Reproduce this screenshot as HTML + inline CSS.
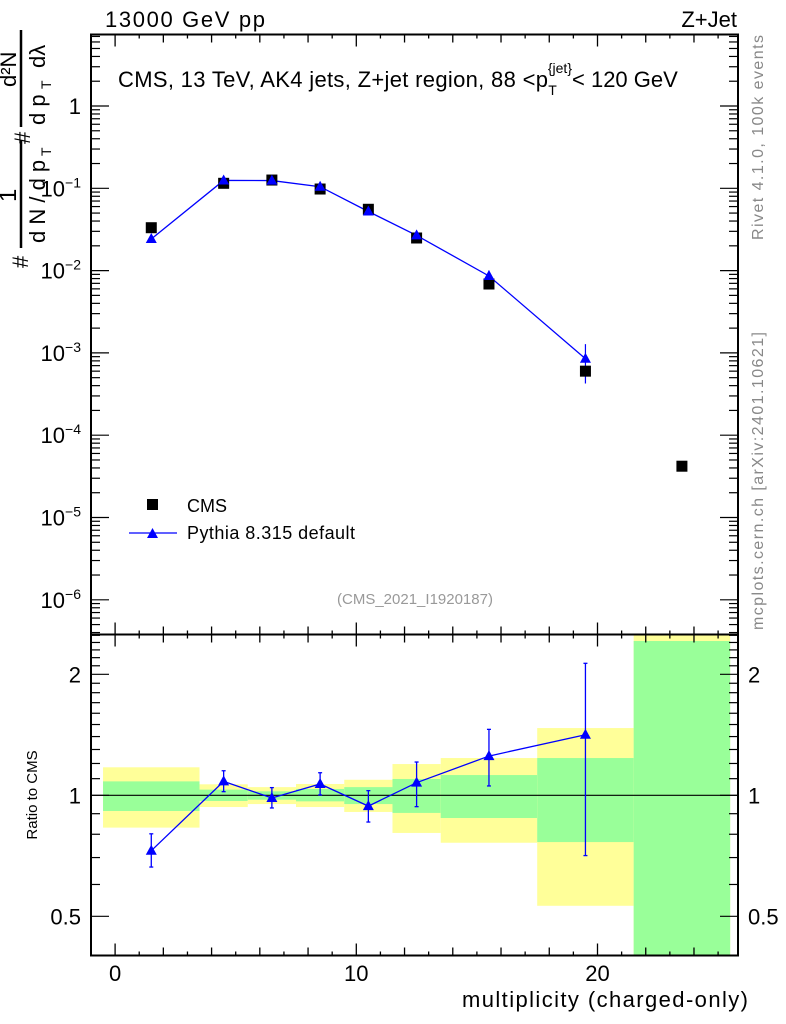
<!DOCTYPE html>
<html><head><meta charset="utf-8"><style>
body{margin:0;background:#fff}
svg{display:block;font-family:"Liberation Sans",sans-serif}
</style></head><body>
<svg id="c" width="786" height="1024" viewBox="0 0 786 1024">
<g>
<text x="105" y="27" font-size="22" textLength="160">13000 GeV pp</text>
<text x="737" y="27" font-size="22" text-anchor="end">Z+Jet</text>
<text x="118" y="87" font-size="22"><tspan textLength="430">CMS, 13 TeV, AK4 jets, Z+jet region, 88 &lt;p</tspan><tspan font-size="14" dy="8">T</tspan><tspan font-size="14" dy="-22" dx="-9">{jet}</tspan><tspan dy="14" dx="0">&lt; 120 GeV</tspan></text>
<text x="415" y="604" font-size="15" fill="#999" text-anchor="middle">(CMS_2021_I1920187)</text>
<text transform="translate(763,240) rotate(-90)" font-size="16" fill="#888" textLength="205">Rivet 4.1.0,  100k events</text>
<text transform="translate(763,630) rotate(-90)" font-size="16" fill="#888" textLength="298">mcplots.cern.ch [arXiv:2401.10621]</text>
<text x="748" y="1007" font-size="22" text-anchor="end" textLength="286">multiplicity (charged-only)</text>
<text transform="translate(37,795) rotate(-90)" font-size="15" text-anchor="middle">Ratio to CMS</text>
<g transform="translate(0,270) rotate(-90)" font-size="22">
<text x="2" y="28">#</text>
<line x1="22" y1="21" x2="130" y2="21" stroke="#000" stroke-width="2.5"/>
<text x="68" y="16" font-size="24">1</text>
<text x="27" y="45">d N / d p</text><text x="114" y="51" font-size="14">T</text>
<text x="126" y="30">#</text>
<line x1="143" y1="21" x2="240" y2="21" stroke="#000" stroke-width="2.5"/>
<text x="183" y="16">d²N</text>
<text x="145" y="45">d p</text><text x="181" y="51" font-size="14">T</text><text x="202" y="45">dλ</text>
</g>
<rect x="147" y="499" width="11" height="11" fill="#000"/>
<text x="187" y="512" font-size="18">CMS</text>
<line x1="129" y1="533" x2="177" y2="533" stroke="#00f" stroke-width="1.3"/>
<polygon points="147,538 158,538 152.5,528" fill="#00f"/>
<text x="187" y="539" font-size="18" textLength="168">Pythia 8.315 default</text>
</g>
<g id="bands"></g><g id="axes"></g><g id="marks"></g>
</svg>
<script>
const xCenters=[1.5,4.5,6.5,8.5,10.5,12.5,15.5,19.5,23.5];
const binEdges=[-0.5,3.5,5.5,7.5,9.5,11.5,13.5,17.5,21.5,25.5];
const cmsValues=[0.0332,0.115,0.126,0.098,0.0556,0.0249,0.00687,0.0006,0.000042];
const pythiaX=[1.5,4.5,6.5,8.5,10.5,12.5,15.5,19.5];
const ratioValues=[0.728,1.083,0.985,1.067,0.94,1.075,1.252,1.415];
const ratioErrHi=[0.802,1.151,1.045,1.138,1.027,1.21,1.459,2.13];
const ratioErrLo=[0.663,1.021,0.93,1.002,0.858,0.937,1.055,0.708];
const yellowHi=[1.174,1.065,1.048,1.067,1.093,1.196,1.238,1.47,2.7];
const yellowLo=[0.831,0.935,0.951,0.935,0.909,0.806,0.762,0.531,0.3];
const greenHi=[1.083,1.033,1.023,1.037,1.048,1.098,1.123,1.238,2.42];
const greenLo=[0.914,0.968,0.975,0.966,0.951,0.904,0.878,0.765,0.3];
const xTickLabels=[0,10,20];
const mainTickLabels=["1","10<tspan font-size='14' dy='-9'>−1</tspan>","10<tspan font-size='14' dy='-9'>−2</tspan>","10<tspan font-size='14' dy='-9'>−3</tspan>","10<tspan font-size='14' dy='-9'>−4</tspan>","10<tspan font-size='14' dy='-9'>−5</tspan>","10<tspan font-size='14' dy='-9'>−6</tspan>"];
const ratioTickValues=[0.5,1,2];

const L=91,R=738,T=34.5,MB=634.5,RB=955.5;
const X=v=>115.1+v*24.12;
const Y=v=>106-Math.log10(v)*82.3;
const RY=v=>795.3-Math.log2(v)*121;
const NS="http://www.w3.org/2000/svg";
function mk(p,tag,at){const e=document.createElementNS(NS,tag);for(const k in at)e.setAttribute(k,at[k]);document.getElementById(p).appendChild(e);return e;}
const clipR=v=>Math.max(MB,Math.min(RB,v));
for(let i=0;i<yellowHi.length;i++){
 let y1=clipR(RY(yellowHi[i])),y2=clipR(RY(yellowLo[i]));
 let e=mk('bands','rect',{x:X(binEdges[i]),y:y1,width:X(binEdges[i+1])-X(binEdges[i]),height:y2-y1,fill:'#ffff99'});
 
 
 y1=clipR(RY(greenHi[i]));y2=clipR(RY(greenLo[i]));
 e=mk('bands','rect',{x:X(binEdges[i]),y:y1,width:X(binEdges[i+1])-X(binEdges[i]),height:y2-y1,fill:'#99ff99'});
 
 
}
let f=mk('axes','rect',{x:L,y:T,width:R-L,height:MB-T,fill:'none',stroke:'#000','stroke-width':2});


f=mk('axes','rect',{x:L,y:MB,width:R-L,height:RB-MB,fill:'none',stroke:'#000','stroke-width':2});


let ln=mk('axes','line',{x1:L,x2:R,y1:RY(1),y2:RY(1),stroke:'#000','stroke-width':1.2});


for(let v=-1;v<=26;v++){
 if(X(v)<L||X(v)>R)continue;
 [[T,1],[MB,-1],[MB,1],[RB,-1]].forEach(([y0,d])=>{mk('axes','line',{x1:X(v),x2:X(v),y1:y0,y2:y0+d*(v%10===0?12:(v%2===0?8:4)),stroke:'#000','stroke-width':1.3});});
}
xTickLabels.forEach(v=>{const t=mk('axes','text',{x:X(v),y:981,'font-size':22,'text-anchor':'middle'});t.textContent=v;
 
 });
for(let d=1;d>=-7;d--){for(let m=1;m<10;m++){const v=m*Math.pow(10,d);const y=Y(v);if(y<T||y>MB)continue;
 const len=m===1?18:9;
 mk('axes','line',{x1:L,x2:L+len,y1:y,y2:y,stroke:'#000','stroke-width':1.2});
 mk('axes','line',{x1:R,x2:R-len,y1:y,y2:y,stroke:'#000','stroke-width':1.2});}}
mainTickLabels.forEach((s,i)=>{const t=mk('axes','text',{x:81,y:Y(Math.pow(10,-i))+8,'font-size':22,'text-anchor':'end'});t.innerHTML=s;
 
 });
for(let r=4;r<=25;r++){const v=r/10;const y=RY(v);if(y<MB||y>RB)continue;const len=(r===5||r===10||r===20)?18:9;
 mk('axes','line',{x1:L,x2:L+len,y1:y,y2:y,stroke:'#000','stroke-width':1.2});mk('axes','line',{x1:R,x2:R-len,y1:y,y2:y,stroke:'#000','stroke-width':1.2});}
ratioTickValues.forEach(v=>{let t=mk('axes','text',{x:81,y:RY(v)+8,'font-size':22,'text-anchor':'end'});t.textContent=v;
 
 
 t=mk('axes','text',{x:748,y:RY(v)+8,'font-size':22});t.textContent=v;
 
 });
const pyVals=pythiaX.map((x,i)=>ratioValues[i]*cmsValues[i]);
let pts=pythiaX.map((x,i)=>X(x)+','+Y(pyVals[i])).join(' ');
let pl=mk('marks','polyline',{points:pts,fill:'none',stroke:'#00f','stroke-width':1.3});


pythiaX.forEach((x,i)=>{const cx=X(x);
 const y1=Y(ratioErrHi[i]*cmsValues[i]),y2=Y(ratioErrLo[i]*cmsValues[i]);
 mk('marks','line',{x1:cx,x2:cx,y1:y1,y2:y2,stroke:'#00f','stroke-width':1.2});});
xCenters.forEach((x,i)=>{const r=mk('marks','rect',{x:X(x)-5.5,y:Y(cmsValues[i])-5.5,width:11,height:11,fill:'#000'});
 
 });
pythiaX.forEach((x,i)=>{const cx=X(x),cy=Y(pyVals[i]);
 const p=mk('marks','polygon',{points:`${cx-5.5},${cy+4} ${cx+5.5},${cy+4} ${cx},${cy-6}`,fill:'#00f'});
 
 });
pts=pythiaX.map((x,i)=>X(x)+','+RY(ratioValues[i])).join(' ');
pl=mk('marks','polyline',{points:pts,fill:'none',stroke:'#00f','stroke-width':1.3});


pythiaX.forEach((x,i)=>{const cx=X(x),cy=RY(ratioValues[i]);
 const y1=RY(ratioErrHi[i]),y2=RY(ratioErrLo[i]);
 mk('marks','line',{x1:cx,x2:cx,y1:y1,y2:y2,stroke:'#00f','stroke-width':1.3});
 mk('marks','line',{x1:cx-2,x2:cx+2,y1:y1,y2:y1,stroke:'#00f','stroke-width':1.3});
 mk('marks','line',{x1:cx-2,x2:cx+2,y1:y2,y2:y2,stroke:'#00f','stroke-width':1.3});
 const p=mk('marks','polygon',{points:`${cx-5.5},${cy+4} ${cx+5.5},${cy+4} ${cx},${cy-6}`,fill:'#00f'});
 
 });
</script>
</body></html>
